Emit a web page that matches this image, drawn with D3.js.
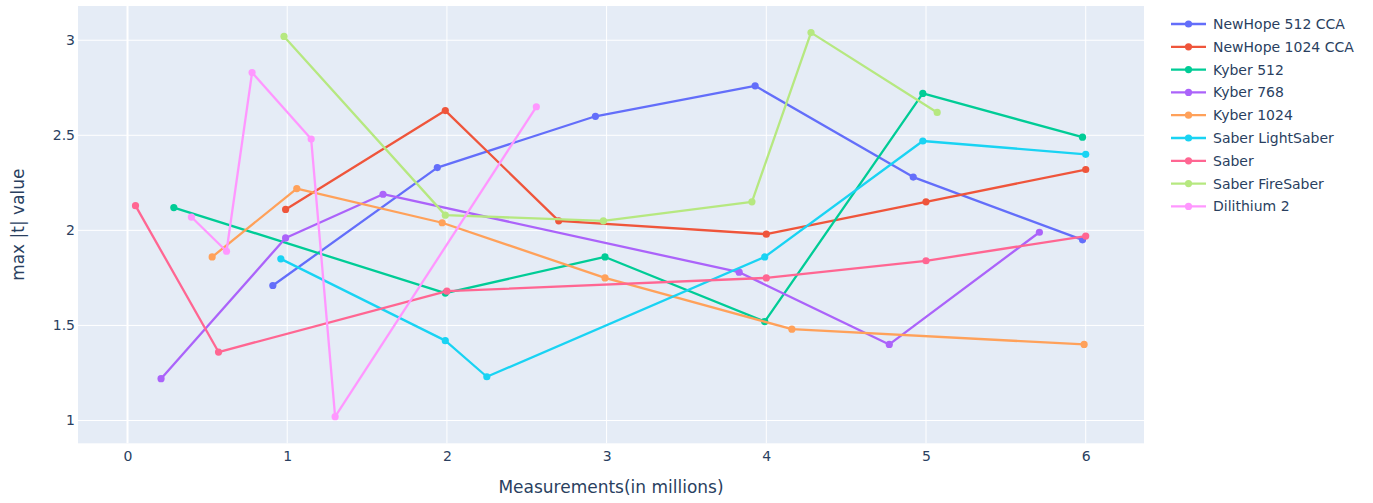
<!DOCTYPE html>
<html>
<head>
<meta charset="utf-8">
<script src="https://cdn.jsdelivr.net/npm/d3@7/dist/d3.min.js"></script>
<style>
  html, body { margin: 0; padding: 0; background: #fff; }
  svg { display: block; font-family: "DejaVu Sans", Verdana, sans-serif; }
</style>
</head>
<body>
<svg id="chart" width="1373" height="503"></svg>
<script>
// Series: max |t| value against number of measurements (millions)
const seriesNames = [
  "NewHope 512 CCA", "NewHope 1024 CCA", "Kyber 512", "Kyber 768", "Kyber 1024",
  "Saber LightSaber", "Saber", "Saber FireSaber", "Dilithium 2"
];
const newHope512X   = [0.91, 1.94, 2.93, 3.93, 4.92, 5.98];
const newHope512Y   = [1.71, 2.33, 2.60, 2.76, 2.28, 1.95];
const newHope1024X  = [0.99, 1.99, 2.70, 4.00, 5.00, 6.00];
const newHope1024Y  = [2.11, 2.63, 2.05, 1.98, 2.15, 2.32];
const kyber512X     = [0.29, 1.99, 2.99, 3.99, 4.98, 5.98];
const kyber512Y     = [2.12, 1.67, 1.86, 1.52, 2.72, 2.49];
const kyber768X     = [0.21, 0.99, 1.60, 3.83, 4.77, 5.71];
const kyber768Y     = [1.22, 1.96, 2.19, 1.78, 1.40, 1.99];
const kyber1024X    = [0.53, 1.06, 1.97, 2.99, 4.16, 5.99];
const kyber1024Y    = [1.86, 2.22, 2.04, 1.75, 1.48, 1.40];
const lightSaberX   = [0.96, 1.99, 2.25, 3.99, 4.98, 6.00];
const lightSaberY   = [1.85, 1.42, 1.23, 1.86, 2.47, 2.40];
const saberX        = [0.05, 0.57, 2.00, 4.00, 5.00, 6.00];
const saberY        = [2.13, 1.36, 1.68, 1.75, 1.84, 1.97];
const fireSaberX    = [0.98, 1.99, 2.98, 3.91, 4.28, 5.07];
const fireSaberY    = [3.02, 2.08, 2.05, 2.15, 3.04, 2.62];
const dilithium2X   = [0.40, 0.62, 0.78, 1.15, 1.30, 2.56];
const dilithium2Y   = [2.07, 1.89, 2.83, 2.48, 1.02, 2.65];

const xTicks = [0, 1, 2, 3, 4, 5, 6];
const yTicks = [1, 1.5, 2, 2.5, 3];

const seriesX = [newHope512X, newHope1024X, kyber512X, kyber768X, kyber1024X,
                 lightSaberX, saberX, fireSaberX, dilithium2X];
const seriesY = [newHope512Y, newHope1024Y, kyber512Y, kyber768Y, kyber1024Y,
                 lightSaberY, saberY, fireSaberY, dilithium2Y];
const colors = ["#636efa", "#EF553B", "#00cc96", "#ab63fa", "#FFA15A",
                "#19d3f3", "#FF6692", "#B6E880", "#FF97FF"];

const series = seriesNames.map((name, i) => ({
  name,
  color: colors[i],
  points: seriesX[i].map((x, j) => ({ x, y: seriesY[i][j] }))
}));

const svg = d3.select("#chart");
const plot = { left: 78, right: 1144, top: 6, bottom: 443.3 };
const textColor = "#2a3f5f";

const x = d3.scaleLinear().domain([-0.31, 6.365]).range([plot.left, plot.right]);
const y = d3.scaleLinear().domain([0.88, 3.18]).range([plot.bottom, plot.top]);

// Plot background
svg.append("rect")
  .attr("x", plot.left).attr("y", plot.top)
  .attr("width", plot.right - plot.left).attr("height", plot.bottom - plot.top)
  .attr("fill", "#E5ECF6");

// Gridlines
const grid = svg.append("g");
grid.selectAll("line.vx").data(xTicks).join("line")
  .attr("x1", d => x(d)).attr("x2", d => x(d))
  .attr("y1", plot.top).attr("y2", plot.bottom)
  .attr("stroke", "#fff").attr("stroke-width", d => d === 0 ? 2 : 1);
grid.selectAll("line.hy").data(yTicks).join("line")
  .attr("x1", plot.left).attr("x2", plot.right)
  .attr("y1", d => y(d)).attr("y2", d => y(d))
  .attr("stroke", "#fff").attr("stroke-width", 1);

// Axes (labels only)
const xAxis = svg.append("g")
  .attr("transform", `translate(0,${plot.bottom})`)
  .call(d3.axisBottom(x).tickValues(xTicks).tickSize(0).tickPadding(8).tickFormat(d3.format("d")));
const yAxis = svg.append("g")
  .attr("transform", `translate(${plot.left},0)`)
  .call(d3.axisLeft(y).tickValues(yTicks).tickSize(0).tickPadding(3).tickFormat(d => String(d)));
[xAxis, yAxis].forEach(a => {
  a.select(".domain").remove();
  a.selectAll("text").attr("fill", textColor).style("font-size", "14px")
    .style("font-family", "'DejaVu Sans', Verdana, sans-serif");
});

// Axis titles
svg.append("text")
  .attr("x", (plot.left + plot.right) / 2).attr("y", 493)
  .attr("text-anchor", "middle").attr("fill", textColor)
  .style("font-size", "17px")
  .text("Measurements(in millions)");
svg.append("text")
  .attr("transform", `translate(24,${(plot.top + plot.bottom) / 2}) rotate(-90)`)
  .attr("text-anchor", "middle").attr("fill", textColor)
  .style("font-size", "17px")
  .text("max |t| value");

// Lines and markers
const line = d3.line().x(d => x(d.x)).y(d => y(d.y));
const traces = svg.append("g").selectAll("g").data(series).join("g");
traces.append("path")
  .attr("d", d => line(d.points))
  .attr("fill", "none").attr("stroke", d => d.color)
  .attr("stroke-width", 2.3).attr("stroke-linejoin", "round");
traces.each(function (s) {
  d3.select(this).selectAll("circle").data(s.points).join("circle")
    .attr("cx", d => x(d.x)).attr("cy", d => y(d.y))
    .attr("r", 3.6).attr("fill", s.color);
});

// Legend
const legend = svg.append("g").attr("transform", "translate(1171,24)");
const item = legend.selectAll("g").data(series).join("g")
  .attr("transform", (d, i) => `translate(0,${i * 22.8})`);
item.append("line")
  .attr("x1", 0).attr("x2", 35).attr("y1", 0).attr("y2", 0)
  .attr("stroke", d => d.color).attr("stroke-width", 2.3);
item.append("circle").attr("cx", 17.5).attr("cy", 0).attr("r", 3.6).attr("fill", d => d.color);
item.append("text")
  .attr("x", 42).attr("y", 0).attr("dy", "0.35em")
  .attr("fill", textColor).style("font-size", "14px")
  .text(d => d.name);
</script>
</body>
</html>
